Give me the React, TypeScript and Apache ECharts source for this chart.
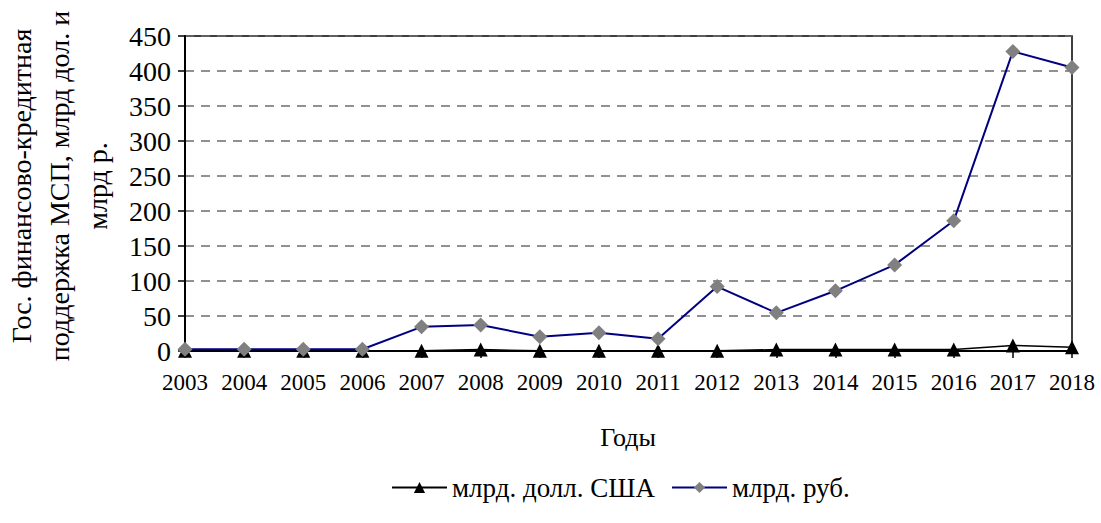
import React, { useEffect, useRef } from "react";
import * as echarts from "echarts";

const years = ["2003","2004","2005","2006","2007","2008","2009","2010","2011","2012","2013","2014","2015","2016","2017","2018"];
const usd = [0.3, 0.3, 0.3, 0.3, 0.5, 2, 0.3, 0.3, 0.3, 0.3, 2, 2, 2, 2, 8, 5.5];
const rub = [2.5, 2.5, 2.5, 2.5, 34.5, 37, 20.5, 26, 17.5, 92, 54.5, 86, 123, 186, 428, 405];
const seriesNames = ["млрд. долл. США", "млрд. руб."];
const yTitle = "Гос. финансово-кредитная\nподдержка МСП, млрд дол. и\nмлрд р.";
const xTitle = "Годы";

const FONT = "'Liberation Serif', 'Times New Roman', serif";

export default function App() {
  const ref = useRef<HTMLDivElement>(null);
  useEffect(() => {
    const chart = echarts.init(ref.current!, null, { renderer: "svg" });
    chart.setOption({
      animation: false,
      backgroundColor: "#ffffff",
      textStyle: { fontFamily: FONT, color: "#000" },
      grid: { left: 185, right: 29, top: 36, bottom: 172, show: true, borderColor: "#000", borderWidth: 1.5, backgroundColor: "transparent" },
      xAxis: {
        type: "category",
        data: years,
        boundaryGap: false,
        axisLine: { lineStyle: { color: "#000", width: 2 } },
        axisTick: { show: true, alignWithLabel: true, length: 7, lineStyle: { color: "#000", width: 1.5 } },
        axisLabel: { color: "#000", fontFamily: FONT, fontSize: 23, margin: 20, interval: 0 },
        splitLine: { show: false },
      },
      yAxis: {
        type: "value",
        min: 0,
        max: 450,
        interval: 50,
        axisLine: { show: true, lineStyle: { color: "#000", width: 2 } },
        axisTick: { show: true, length: 7, lineStyle: { color: "#000", width: 1.5 } },
        axisLabel: { color: "#000", fontFamily: FONT, fontSize: 28, margin: 14 },
        splitLine: { show: true, lineStyle: { color: "#6e6e6e", type: [9, 7], width: 1.5 } },
      },
      legend: {
        top: 469,
        left: 386,
        itemWidth: 55,
        itemHeight: 14,
        itemGap: 16,
        textStyle: { fontFamily: FONT, fontSize: 27, color: "#000" },
        data: seriesNames,
      },
      graphic: [
        {
          type: "text",
          x: 59,
          y: 186,
          rotation: Math.PI / 2,
          style: { text: yTitle, fontFamily: FONT, fontSize: 28, fill: "#000", textAlign: "center", textVerticalAlign: "middle", lineHeight: 38 },
        },
        {
          type: "text",
          x: 628,
          y: 437,
          style: { text: xTitle, fontFamily: FONT, fontSize: 26, fill: "#000", textAlign: "center", textVerticalAlign: "middle" },
        },
      ],
      series: [
        {
          name: seriesNames[0],
          type: "line",
          data: usd,
          symbol: "triangle",
          symbolSize: 14,
          itemStyle: { color: "#000" },
          lineStyle: { color: "#000", width: 1.5 },
          z: 2,
        },
        {
          name: seriesNames[1],
          type: "line",
          data: rub,
          symbol: "diamond",
          symbolSize: 15,
          itemStyle: { color: "#808080" },
          lineStyle: { color: "#000080", width: 2 },
          z: 3,
        },
      ],
    });
    return () => chart.dispose();
  }, []);
  return <div ref={ref} style={{ width: 1101, height: 523, position: "absolute", left: 0, top: 0 }} />;
}
